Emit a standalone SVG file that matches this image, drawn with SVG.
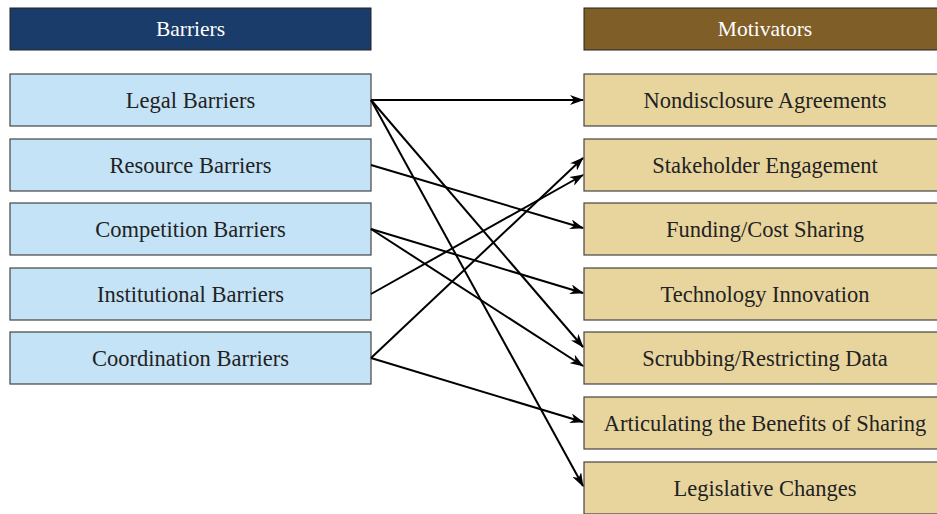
<svg xmlns="http://www.w3.org/2000/svg" width="937" height="514" viewBox="0 0 937 514">
<defs>
<style>
.hb{fill:#1a3c6a;stroke:#222;stroke-width:1}
.hm{fill:#7f5e28;stroke:#222;stroke-width:1}
.b{fill:#c5e3f6;stroke:#444;stroke-width:1.2}
.m{fill:#e8d59e;stroke:#444;stroke-width:1.2}
text{font-family:"Liberation Serif","DejaVu Serif",serif;font-size:22.5px;text-anchor:middle;fill:#222}
.ht{fill:#fff;font-size:21.5px}
.e{stroke:#000;stroke-width:2;fill:none;marker-end:url(#ah)}
</style>
<marker id="ah" viewBox="0 0 14 10" refX="13" refY="5" markerWidth="14" markerHeight="10" markerUnits="userSpaceOnUse" orient="auto">
<path d="M0,0 L14,5 L0,10 L4,5 Z" fill="#000"/>
</marker>
</defs>
<rect width="937" height="514" fill="#fff"/>
<g id="header-barriers"><rect class="hb" x="10" y="8" width="361" height="42"/><text class="ht" x="190.5" y="36">Barriers</text></g>
<g id="header-motivators"><rect class="hm" x="584" y="8" width="362" height="42"/><text class="ht" x="765" y="36">Motivators</text></g>
<g id="legal"><rect class="b" x="10" y="74" width="361" height="52"/><text x="190.5" y="107.5">Legal Barriers</text></g>
<g id="resource"><rect class="b" x="10" y="139" width="361" height="52"/><text x="190.5" y="172.5">Resource Barriers</text></g>
<g id="competition"><rect class="b" x="10" y="203" width="361" height="52"/><text x="190.5" y="236.5">Competition Barriers</text></g>
<g id="institutional"><rect class="b" x="10" y="268" width="361" height="52"/><text x="190.5" y="301.5">Institutional Barriers</text></g>
<g id="coordination"><rect class="b" x="10" y="332" width="361" height="52"/><text x="190.5" y="365.5">Coordination Barriers</text></g>
<g id="nda"><rect class="m" x="584" y="74" width="362" height="52"/><text x="765" y="107.5">Nondisclosure Agreements</text></g>
<g id="stakeholder"><rect class="m" x="584" y="139" width="362" height="52"/><text x="765" y="172.5">Stakeholder Engagement</text></g>
<g id="funding"><rect class="m" x="584" y="203" width="362" height="52"/><text x="765" y="236.5">Funding/Cost Sharing</text></g>
<g id="technology"><rect class="m" x="584" y="268" width="362" height="52"/><text x="765" y="301.5">Technology Innovation</text></g>
<g id="scrubbing"><rect class="m" x="584" y="332" width="362" height="52"/><text x="765" y="365.5">Scrubbing/Restricting Data</text></g>
<g id="articulating"><rect class="m" x="584" y="397" width="362" height="52"/><text x="765" y="430.5">Articulating the Benefits of Sharing</text></g>
<g id="legislative"><rect class="m" x="584" y="462" width="362" height="52"/><text x="765" y="495.5">Legislative Changes</text></g>
<g id="connectors">
<line class="e" x1="371" y1="100" x2="583" y2="100"/>
<line class="e" x1="371" y1="100" x2="583" y2="347"/>
<line class="e" x1="371" y1="100" x2="583" y2="486"/>
<line class="e" x1="371" y1="165" x2="583" y2="228"/>
<line class="e" x1="371" y1="229" x2="583" y2="293"/>
<line class="e" x1="371" y1="229" x2="583" y2="366"/>
<line class="e" x1="371" y1="294" x2="583" y2="175"/>
<line class="e" x1="371" y1="358" x2="583" y2="158"/>
<line class="e" x1="371" y1="358" x2="583" y2="422"/>
</g>
</svg>
